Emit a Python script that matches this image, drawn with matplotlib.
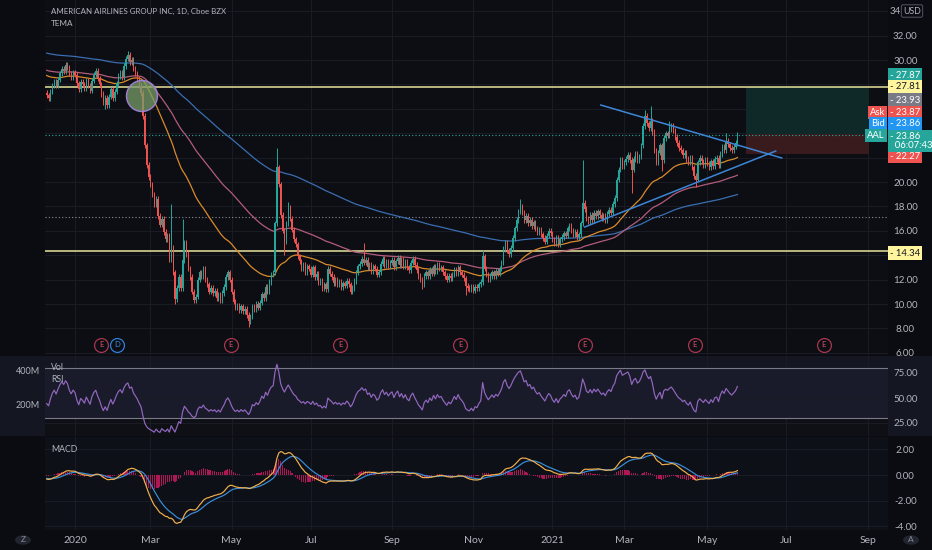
import numpy as np
import matplotlib
matplotlib.use("Agg")
import matplotlib.pyplot as plt
from matplotlib.patches import Ellipse, Rectangle, Circle

plt.rcParams['font.family'] = ['Lato', 'DejaVu Sans']

# ---------------- data (daily closes, AAL, Dec 10 2019 - May 25 2021) ----------------
dec19 = [27.1, 26.9, 27.4, 27.9, 28.2, 27.9, 28.4, 28.9, 29.3, 29.1, 29.6, 29.4, 28.9, 28.6, 29.0]
jan20 = [28.8, 28.1, 27.6, 28.2, 28.0, 27.7, 28.3, 27.9, 27.5, 28.3, 28.8, 29.1, 28.5, 28.0, 27.2,
         26.5, 26.9, 26.3, 27.0, 27.6, 26.9]
feb20 = [27.4, 28.1, 28.7, 29.0, 28.6, 29.5, 30.1, 30.4, 29.8, 30.0, 29.3, 28.9, 28.5, 27.9, 27.3,
         25.4, 23.0, 21.4, 20.4]
mar20 = [19.8, 19.0, 18.2, 18.6, 17.2, 16.5, 17.0, 15.9, 15.3, 15.6, 13.7, 14.6, 12.6, 10.4, 11.3,
         12.2, 11.3, 13.6, 15.0, 14.1, 12.9, 12.2]
apr20 = [11.0, 10.3, 10.6, 12.0, 12.6, 12.3, 12.9, 12.0, 11.6, 11.0, 11.3, 10.9, 11.1, 10.5, 10.8,
         10.3, 10.9, 11.4, 12.2, 12.6, 12.0]
may20 = [11.0, 10.2, 9.7, 9.9, 9.5, 9.8, 9.4, 9.6, 9.1, 8.6, 9.0, 9.8, 9.6, 10.0, 9.7,
         10.1, 10.8, 10.5, 11.4, 11.0]
jun20 = [11.8, 12.4, 12.6, 16.6, 21.2, 19.8, 17.3, 16.0, 15.1, 16.6, 17.9, 17.0, 16.1, 15.3, 14.9,
         13.9, 13.5, 12.9, 13.2, 12.6, 13.1, 12.9]
jul20 = [12.4, 13.0, 12.2, 12.5, 11.8, 11.9, 11.3, 11.6, 11.2, 12.9, 12.5, 12.2, 11.7, 12.0, 11.6,
         11.8, 11.4, 11.7, 11.5, 11.9, 11.6, 11.0]
aug20 = [11.3, 11.9, 12.6, 13.1, 13.3, 13.7, 13.4, 13.6, 13.0, 13.2, 12.7, 13.1, 12.9, 12.4, 12.6,
         13.3, 13.7, 13.2, 13.5, 13.1, 13.4]
sep20 = [13.6, 13.0, 13.5, 13.8, 13.2, 13.6, 13.1, 13.5, 13.0, 12.8, 13.4, 13.7, 13.2, 12.8, 12.3,
         12.0, 11.6, 12.3, 12.6, 12.3, 12.8]
oct20 = [12.5, 13.1, 12.7, 13.2, 12.9, 13.0, 12.6, 12.3, 12.0, 12.3, 12.1, 12.4, 12.8, 12.5, 13.0,
         12.6, 12.4, 12.1, 11.5, 11.3, 11.2, 11.4]
nov20 = [11.1, 11.4, 11.3, 11.6, 11.8, 13.9, 12.9, 12.4, 12.0, 12.3, 12.6, 12.3, 12.7, 12.5, 12.9,
         13.4, 14.5, 15.0, 14.4, 14.1]
dec20 = [14.6, 15.4, 16.2, 16.9, 17.6, 18.0, 17.5, 16.9, 17.2, 16.6, 16.9, 16.4, 16.7, 16.2, 15.9,
         16.1, 15.7, 15.4, 15.1, 15.6, 16.0, 15.8]
jan21 = [15.3, 15.0, 15.4, 14.9, 15.3, 15.5, 15.8, 15.6, 16.2, 16.4, 16.0, 15.7, 15.9, 15.5, 15.7,
         16.6, 18.3, 17.8, 17.0]
feb21 = [16.8, 17.3, 16.9, 17.5, 17.2, 17.6, 17.3, 17.0, 17.2, 16.9, 17.4, 17.7, 17.5, 18.2, 18.7,
         20.2, 21.0, 21.8, 21.3]
mar21 = [21.6, 21.9, 22.2, 21.8, 21.0, 21.9, 22.3, 21.8, 22.1, 23.0, 24.6, 25.4, 24.8, 24.4, 25.0,
         24.1, 22.6, 21.6, 22.4, 23.0, 21.8, 23.6, 24.0]
apr21 = [23.8, 24.3, 24.6, 24.2, 23.7, 23.2, 22.8, 22.6, 22.2, 22.4, 21.9, 21.6, 22.0, 21.2, 20.5,
         20.2, 21.6, 22.0, 21.7, 21.4, 21.8]
may21 = [21.5, 21.2, 21.7, 21.3, 21.9, 22.0, 21.4, 22.3, 22.9, 22.6, 23.4, 23.1, 22.8, 22.6, 22.9,
         23.2, 23.86]
first_open = 27.3
# notable wick extremes (bar index -> price)
high_marks = {10: 29.8, 43: 30.7, 66: 18.2, 72: 17.0, 122: 22.8, 128: 18.4, 168: 15.0, 231: 14.4,
              251: 18.6, 284: 21.8, 317: 25.9, 320: 26.2, 330: 25.0, 360: 24.0, 366: 24.05}
low_marks = {31: 26.0, 68: 10.0, 107: 8.1, 126: 14.0, 161: 10.8, 199: 11.2, 222: 10.7, 310: 19.1,
             326: 20.9, 344: 19.6}

# axis ticks (bar index of first trading day of month)
month_ticks = [15, 55, 98, 140, 183, 226, 268, 306, 350, 392, 435]
month_labels = ['2020', 'Mar', 'May', 'Jul', 'Sep', 'Nov', '2021', 'Mar', 'May', 'Jul', 'Sep']
price_ticks = list(range(6, 36, 2))
hidden_price_ticks = [14, 22, 24, 26, 28, 34]   # covered by price tags in the reference

# drawings
yellow_levels = [27.81, 14.34]
dotted_level = 17.15
last_price = 23.86
pos_start, pos_end = 370.4, 435.5
pos_entry, pos_target, pos_stop = 23.93, 27.75, 22.27
trend_down = ([293.6, 389.5], [26.31, 21.97])
trend_up = ([285.1, 386.3], [16.31, 22.54])
circle_center = (50.5, 27.05)
earn_idx = [28.8, 97.6, 155.4, 219.0, 285.1, 343.4, 411.7]
div_idx = [37.2]
marker_price = 6.64

# ---------------- derived series ----------------
closes = np.array(dec19 + jan20 + feb20 + mar20 + apr20 + may20 + jun20 + jul20 + aug20 + sep20 +
                  oct20 + nov20 + dec20 + jan21 + feb21 + mar21 + apr21 + may21)
n = len(closes)
x = np.arange(n)
opens = np.concatenate([[first_open], closes[:-1]])
wick = 0.22
highs = np.maximum(opens, closes) + wick
lows = np.minimum(opens, closes) - wick
for k, v in high_marks.items():
    highs[k] = max(highs[k], v)
for k, v in low_marks.items():
    lows[k] = min(lows[k], v)


def ema(vals, span, seed):
    a = 2.0 / (span + 1)
    out, v = [], seed
    for c in vals:
        v = v + a * (c - v)
        out.append(v)
    return np.array(out)


ema50 = ema(closes, 50, 28.8)
ema100 = ema(closes, 100, 29.2)
ema200 = ema(closes, 200, 30.6)

macd = ema(closes, 12, 27.6) - ema(closes, 26, 27.9)
signal = ema(macd, 9, -0.25)
hist = macd - signal


def rsi_calc(c, p0, period=14, g0=0.14, l0=0.16):
    ag, al, prev, out = g0, l0, p0, []
    for v in c:
        d = v - prev
        prev = v
        ag = (ag * (period - 1) + max(d, 0)) / period
        al = (al * (period - 1) + max(-d, 0)) / period
        out.append(100 - 100 / (1 + ag / al))
    return np.array(out)


rsi = rsi_calc(closes, first_open)

# ---------------- figure ----------------
W, H = 932, 550
fig = plt.figure(figsize=(W / 100, H / 100), dpi=100)
fig.patch.set_facecolor('#0b0c11')


def fx(px):
    return px / W


def fy(py):
    return 1 - py / H


def px_axes(l, t, r, b):
    return fig.add_axes([l / W, 1 - b / H, (r - l) / W, (b - t) / H])


# lighter strip for RSI row (behind the axes)
fig.patches.append(Rectangle((0, fy(436)), 1, 80 / H, transform=fig.transFigure,
                             facecolor='#141722', edgecolor='none', zorder=-10))

main = px_axes(45, 0, 888, 355)
rax = px_axes(45, 356, 888, 436)
max_ = px_axes(45, 437, 888, 530)

XL = (-0.89, 445.8)
TXT = '#b2b5be'
GRID = '#1a1d26'
for a in (main, rax, max_):
    a.set_xlim(*XL)
    for s in a.spines.values():
        s.set_visible(False)
    a.set_xticks(month_ticks)
    a.grid(True, color=GRID, lw=0.7, zorder=0)
    a.tick_params(axis='both', length=0, colors=TXT, labelsize=7)
    a.yaxis.tick_right()
    a.tick_params(axis='y', pad=12.5)
    a.set_axisbelow(True)

main.set_facecolor('#0c0e14')
rax.set_facecolor('#141722')
max_.set_facecolor('#0e1017')
main.set_xticklabels([])
rax.set_xticklabels([])
max_.set_xticklabels(month_labels)
max_.tick_params(axis='x', pad=4, labelsize=7.5)

# ---- main price panel ----
main.set_ylim(5.82, 34.92)
main.set_yticks(price_ticks)
main.set_yticklabels(['' if v in hidden_price_ticks else f'{v:.2f}' for v in price_ticks])
for lab in main.get_yticklabels():
    lab.set_horizontalalignment('center')

# position tool
main.add_patch(Rectangle((pos_start, pos_entry), pos_end - pos_start, pos_target - pos_entry,
                         facecolor='#0e2927', edgecolor='none', zorder=1))
main.add_patch(Rectangle((pos_start, pos_stop), pos_end - pos_start, pos_entry - pos_stop,
                         facecolor='#391b1e', edgecolor='none', zorder=1))

for lv in yellow_levels:
    main.axhline(lv, color='#e8e49c', lw=1.1, zorder=2)
main.axhline(dotted_level, color='#8a8d96', lw=0.8, ls=(0, (1, 2)), zorder=2)
main.axhline(last_price, color='#26a69a', lw=0.8, ls=(0, (1, 2)), zorder=2)

main.plot(x, ema200, color='#3a6eb0', lw=0.9, zorder=3)
main.plot(x, ema100, color='#b35c79', lw=0.9, zorder=3)
main.plot(x, ema50, color='#d98a2b', lw=0.9, zorder=3)

up = closes >= opens
cols = np.where(up, '#26a69a', '#ef5350')
main.vlines(x, lows, highs, colors=cols, lw=0.7, zorder=4)
main.bar(x, np.maximum(np.abs(closes - opens), 0.05), bottom=np.minimum(opens, closes),
         width=0.62, color=cols, lw=0, zorder=4)

main.plot(trend_down[0], trend_down[1], color='#3d86d6', lw=1.1, zorder=5)
main.plot(trend_up[0], trend_up[1], color='#3d86d6', lw=1.1, zorder=5)

main.add_patch(Ellipse(circle_center, 31 / 1.888, 31 / 12.2, facecolor=(0.47, 0.62, 0.42, 0.75),
                       edgecolor='#a07fd6', lw=1.0, zorder=6))

main.scatter(earn_idx, [marker_price] * len(earn_idx), s=100, facecolors='#0c0e14',
             edgecolors='#a8364c', lw=0.9, zorder=6)
for xi in earn_idx:
    main.text(xi, marker_price, 'E', color='#e0506a', fontsize=5.5, ha='center', va='center',
              zorder=7)
main.scatter(div_idx, [marker_price] * len(div_idx), s=100, facecolors='#0c0e14',
             edgecolors='#2f7fd8', lw=0.9, zorder=6)
for xi in div_idx:
    main.text(xi, marker_price, 'D', color='#3d8ee0', fontsize=5.5, ha='center', va='center',
              zorder=7)

# ---- RSI panel ----
rax.set_ylim(12, 92)
rax.set_yticks([25, 50, 75])
rax.set_yticklabels(['25.00', '50.00', '75.00'])
for lab in rax.get_yticklabels():
    lab.set_horizontalalignment('center')
rax.axhspan(30, 80, facecolor='#1a1b2a', edgecolor='none', zorder=0.5)
rax.axhspan(12, 30, facecolor='#0e1016', edgecolor='none', zorder=0.5)
rax.axhline(80, color='#787b86', lw=0.8, zorder=1)
rax.axhline(30, color='#787b86', lw=0.8, zorder=1)
rax.plot(x, rsi, color='#9368c0', lw=0.85, zorder=3)

# ---- MACD panel ----
max_.set_ylim(-4.28, 2.96)
max_.set_yticks([-4, -2, 0, 2])
max_.set_yticklabels(['-4.00', '-2.00', '0.00', '2.00'])
for lab in max_.get_yticklabels():
    lab.set_horizontalalignment('center')
max_.bar(x, hist, width=0.6, color='#c2185b', alpha=0.9, lw=0, zorder=2)
max_.plot(x, signal, color='#3a8fdc', lw=0.85, zorder=3)
max_.plot(x, macd, color='#f2b04f', lw=0.85, zorder=4)

# ---------------- texts & tags ----------------
fig.text(fx(51), fy(11), 'AMERICAN AIRLINES GROUP INC, 1D, Cboe BZX', color=TXT, fontsize=5.7,
         va='center', ha='left')
fig.text(fx(51), fy(23), 'TEMA', color=TXT, fontsize=5.9, va='center', ha='left')
fig.text(fx(51), fy(368), 'Vol', color=TXT, fontsize=6.3, va='center', ha='left')
fig.text(fx(51), fy(380), 'RSI', color=TXT, fontsize=6.3, va='center', ha='left')
fig.text(fx(51), fy(449), 'MACD', color=TXT, fontsize=6.3, va='center', ha='left')
fig.text(fx(40), fy(372), '400M', color=TXT, fontsize=6.5, va='center', ha='right')
fig.text(fx(40), fy(405), '200M', color=TXT, fontsize=6.5, va='center', ha='right')

# partially hidden top price label and currency box
fig.text(fx(901), fy(11), '34', color=TXT, fontsize=7, va='center', ha='right')
fig.text(fx(912), fy(11), 'USD', color=TXT, fontsize=6.3, va='center', ha='center',
         bbox=dict(boxstyle='round,pad=0.2', fc='#0b0c11', ec='#4a4d58', lw=0.8))


def ypx(v):
    return H - main.transData.transform((0, v))[1]


tags = [
    (27.87, '- 27.87', '#26a69a', 'white', -11),
    (27.81, '- 27.81', '#fff59d', '#131722', 0),
    (23.93, '- 23.93', '#787b86', 'white', -34),
    (23.87, '- 23.87', '#ef5350', 'white', -22.5),
    (23.86, '- 23.86', '#2196f3', 'white', -11),
    (22.27, '- 22.27', '#ef5350', 'white', 2),
    (14.34, '- 14.34', '#fff59d', '#131722', 2),
]
for price, label, bg, fg, sh in tags:
    yc = ypx(price) + sh
    fig.text(fx(890), fy(yc), label, color=fg, fontsize=6.8, va='center', ha='left',
             bbox=dict(boxstyle='square,pad=0.22', fc=bg, ec='none'))

# AAL tag (two-line)
yc = ypx(last_price) + 6
fig.text(fx(890), fy(yc), '- 23.86\n  06:07:43', color='white', fontsize=6.8, va='center',
         ha='left', linespacing=1.05,
         bbox=dict(boxstyle='square,pad=0.22', fc='#26a69a', ec='none'))
left_tags = [(23.87, 'Ask', '#ef5350', -22.5), (23.86, 'Bid', '#2196f3', -11),
             (last_price, 'AAL', '#26a69a', 0.5)]
for price, label, bg, sh in left_tags:
    yc = ypx(price) + sh
    fig.text(fx(885), fy(yc), label, color='white', fontsize=6.8, va='center', ha='right',
             bbox=dict(boxstyle='square,pad=0.22', fc=bg, ec='none'))

# corner buttons
for cxp, ch in ((23, 'Z'), (911, 'A')):
    fig.patches.append(Circle((fx(cxp), fy(540)), 8 / W, transform=fig.transFigure,
                              facecolor='#22252f', edgecolor='none', zorder=-5))
    fig.text(fx(cxp), fy(540), ch, color='#8a8d96', fontsize=6, ha='center', va='center')

fig.savefig('out.png', dpi=100, facecolor=fig.get_facecolor())
